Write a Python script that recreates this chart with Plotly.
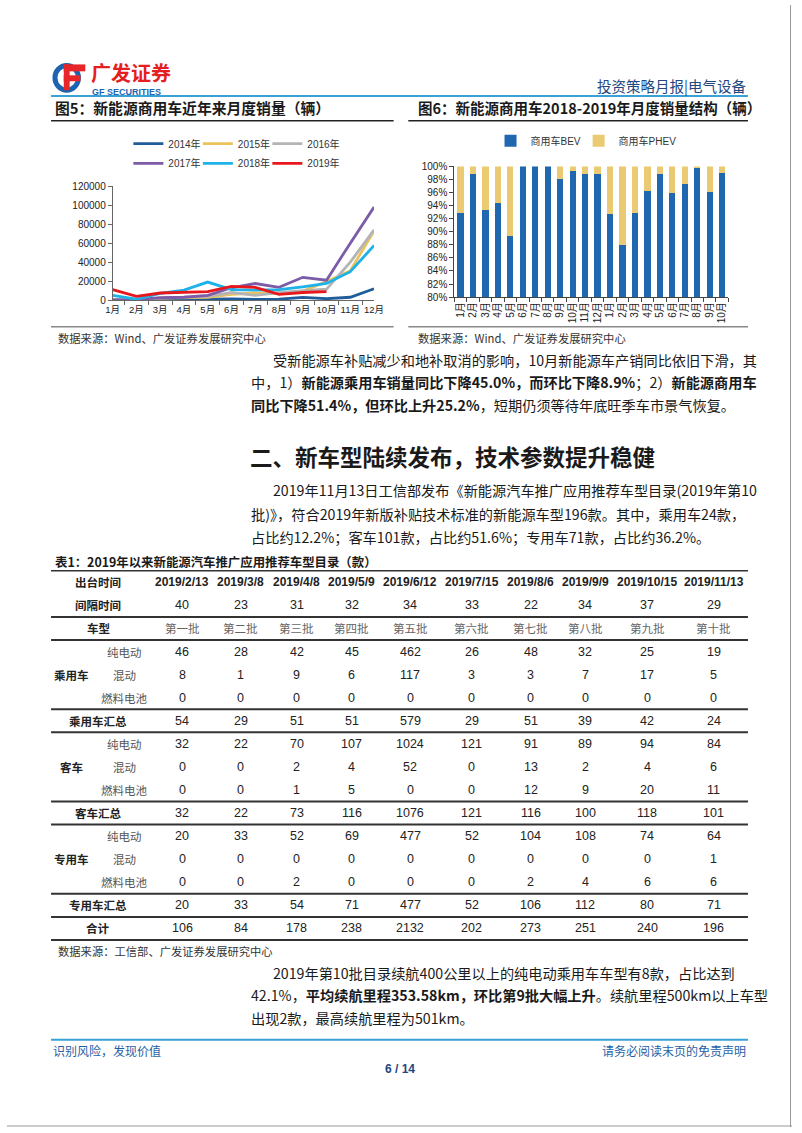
import plotly.graph_objects as go

W, H = 802, 1133
FONT = "Liberation Sans, Noto Sans CJK SC, sans-serif"
CJK = "Noto Sans CJK SC, Liberation Sans, sans-serif"

# ---------------- data: Figure 5 (line chart) ----------------
months = ["1月", "2月", "3月", "4月", "5月", "6月", "7月", "8月", "9月", "10月", "11月", "12月"]
sales_2014 = [500, 300, 600, 700, 1000, 1200, 800, 1000, 2800, 1500, 3000, 12000]
sales_2015 = [800, 600, 2000, 2500, 3000, 6000, 7500, 7000, 9500, 19500, 31000, 73000]
sales_2016 = [400, 500, 2000, 3000, 4000, 8000, 5000, 8000, 10000, 11500, 40000, 74000]
sales_2017 = [300, 600, 2500, 3000, 5000, 13000, 17500, 13500, 24000, 21000, 60000, 98000]
sales_2018 = [5000, 1000, 7000, 10500, 19000, 11000, 10500, 11000, 14000, 17500, 30000, 57500]
sales_2019 = [11000, 4000, 7500, 8000, 9000, 14500, 13500, 6000, 8000, 9000]
line_names = ["2014年", "2015年", "2016年", "2017年", "2018年", "2019年"]

# ---------------- data: Figure 6 (stacked share bars) ----------------
bar_years = ["2018"] * 12 + ["2019"] * 10
bar_months = ["1月", "2月", "3月", "4月", "5月", "6月", "7月", "8月", "9月", "10月", "11月", "12月",
              "1月", "2月", "3月", "4月", "5月", "6月", "7月", "8月", "9月", "10月"]
bev_share = [92.8, 98.9, 93.3, 94.4, 89.4, 100.0, 100.0, 100.0, 98.1, 99.3, 98.8, 98.9,
             92.7, 87.9, 92.9, 96.3, 98.9, 95.9, 97.3, 99.8, 96.1, 99.0]
phev_share = [7.2, 1.1, 6.7, 5.6, 10.6, 0.0, 0.0, 0.0, 1.9, 0.7, 1.2, 1.1,
              7.3, 12.1, 7.1, 3.7, 1.1, 4.1, 2.7, 0.2, 3.9, 1.0]
bar_names = ["商用车BEV", "商用车PHEV"]

# ---------------- data: Table 1 ----------------
release_dates = ["2019/2/13", "2019/3/8", "2019/4/8", "2019/5/9", "2019/6/12",
                 "2019/7/15", "2019/8/6", "2019/9/9", "2019/10/15", "2019/11/13"]
interval_days = [40, 23, 31, 32, 34, 33, 22, 34, 37, 29]
batches = ["第一批", "第二批", "第三批", "第四批", "第五批", "第六批", "第七批", "第八批", "第九批", "第十批"]
passenger_bev = [46, 28, 42, 45, 462, 26, 48, 32, 25, 19]
passenger_hev = [8, 1, 9, 6, 117, 3, 3, 7, 17, 5]
passenger_fcev = [0, 0, 0, 0, 0, 0, 0, 0, 0, 0]
passenger_total = [54, 29, 51, 51, 579, 29, 51, 39, 42, 24]
bus_bev = [32, 22, 70, 107, 1024, 121, 91, 89, 94, 84]
bus_hev = [0, 0, 2, 4, 52, 0, 13, 2, 4, 6]
bus_fcev = [0, 0, 1, 5, 0, 0, 12, 9, 20, 11]
bus_total = [32, 22, 73, 116, 1076, 121, 116, 100, 118, 101]
special_bev = [20, 33, 52, 69, 477, 52, 104, 108, 74, 64]
special_hev = [0, 0, 0, 0, 0, 0, 0, 0, 0, 1]
special_fcev = [0, 0, 2, 0, 0, 0, 2, 4, 6, 6]
special_total = [20, 33, 54, 71, 477, 52, 106, 112, 80, 71]
grand_total = [106, 84, 178, 238, 2132, 202, 273, 251, 240, 196]
subtypes = ["纯电动", "混动", "燃料电池"]
groups = ["乘用车", "客车", "专用车"]


def X(px):
    return px / W


def Y(py):
    return 1 - py / H


fig = go.Figure()

# ---------------- line chart ----------------
line_data = [sales_2014, sales_2015, sales_2016, sales_2017, sales_2018, sales_2019]
line_colors = ["#1F5C99", "#EBC35A", "#B4B4B4", "#7C5BA8", "#1DB2E8", "#E8171C"]
legend_ids = ["legend", "legend2", "legend3", "legend4", "legend5", "legend6"]
for name, vals, col, lg in zip(line_names, line_data, line_colors, legend_ids):
    fig.add_trace(go.Scatter(
        x=months[:len(vals)], y=vals, name=name, mode="lines",
        line=dict(color=col, width=2.8), xaxis="x", yaxis="y",
        legend=lg, hoverinfo="skip"))

# ---------------- bar chart ----------------
bar_cats = [y + "-" + m for y, m in zip(bar_years, bar_months)]
for name, vals, col, lg in zip(bar_names, [bev_share, phev_share], ["#1F67AE", "#EACB73"],
                               ["legend7", "legend8"]):
    fig.add_trace(go.Bar(
        x=bar_cats, y=vals, name=name, marker=dict(color=col, line=dict(width=0)),
        xaxis="x2", yaxis="y2", legend=lg, hoverinfo="skip"))

axis_font = dict(family=FONT, size=10, color="#222")


def legend_at(px, py):
    return dict(x=X(px), y=Y(py), orientation="h", bgcolor="rgba(0,0,0,0)", borderwidth=0,
                font=dict(family=FONT, size=10, color="#333"), traceorder="normal",
                itemwidth=30, yanchor="middle", xanchor="left")


legend_layout = {}
for k, lg in enumerate(legend_ids):
    legend_layout[lg] = legend_at(124 + (k % 3) * 71, 140 if k < 3 else 160)
legend_layout["legend7"] = legend_at(494, 137)
legend_layout["legend8"] = legend_at(584, 137)

fig.update_layout(
    width=W, height=H, autosize=False,
    margin=dict(l=0, r=0, t=0, b=0),
    paper_bgcolor="white", plot_bgcolor="white",
    barmode="stack", bargap=0.5,
    showlegend=True,
    xaxis=dict(domain=[X(108), X(375)], anchor="y", type="category",
               categoryorder="array", categoryarray=months, tickangle=0,
               tickson="boundaries", ticks="outside", ticklen=4, tickcolor="#666",
               showline=True, linecolor="#666", linewidth=1, showgrid=False,
               tickfont=dict(family=FONT, size=9.5, color="#222"), fixedrange=True),
    yaxis=dict(domain=[Y(298), Y(183)], anchor="x", range=[0, 120000], dtick=20000,
               tickformat="d", showline=True, linecolor="#666", linewidth=1,
               ticks="outside", ticklen=4, tickcolor="#666", showgrid=False,
               zeroline=False, tickfont=axis_font, fixedrange=True),
    xaxis2=dict(domain=[X(457), X(737)], anchor="y2", type="category",
                categoryorder="array", categoryarray=bar_cats,
                tickmode="array", tickvals=bar_cats, ticktext=bar_months,
                tickangle=-90, tickson="boundaries", ticks="outside", ticklen=4,
                tickcolor="#444", showline=True, linecolor="#444", linewidth=1,
                showgrid=False, tickfont=axis_font, fixedrange=True),
    yaxis2=dict(domain=[Y(295), Y(163)], anchor="x2", range=[80, 100], dtick=2,
                ticksuffix="%", showline=True, linecolor="#444", linewidth=1,
                ticks="outside", ticklen=4, tickcolor="#444", showgrid=False,
                zeroline=False, tickfont=axis_font, fixedrange=True),
    **legend_layout,
)

shapes = []
annots = []


def hline(x0, x1, y, color, width):
    shapes.append(dict(type="line", xref="paper", yref="paper",
                       x0=X(x0), x1=X(x1), y0=Y(y), y1=Y(y),
                       line=dict(color=color, width=width)))


def text(x, y, s, size=14, color="#1a1a1a", anchor="left", family=CJK):
    annots.append(dict(x=X(x), y=Y(y), xref="paper", yref="paper", text=s,
                       showarrow=False, xanchor=anchor, yanchor="middle",
                       font=dict(family=family, size=size, color=color)))


# ---------------- page header ----------------
shapes.append(dict(type="circle", xref="paper", yref="paper",
                   x0=X(49), x1=X(73), y0=Y(86), y1=Y(61),
                   line=dict(color="#1E63B0", width=5)))
shapes.append(dict(type="rect", xref="paper", yref="paper",
                   x0=X(58), x1=X(80), y0=Y(67), y1=Y(60),
                   fillcolor="#E8262A", line=dict(width=0)))
shapes.append(dict(type="rect", xref="paper", yref="paper",
                   x0=X(58), x1=X(75), y0=Y(77), y1=Y(71),
                   fillcolor="#E8262A", line=dict(width=0)))
shapes.append(dict(type="rect", xref="paper", yref="paper",
                   x0=X(58), x1=X(64), y0=Y(86), y1=Y(60),
                   fillcolor="#E8262A", line=dict(width=0)))
text(84, 68, "<b>广发证券</b>", size=20, color="#E3201F")
text(85, 88, "<b>GF SECURITIES</b>", size=9, color="#1E63B0", family=FONT)
text(757, 81, "投资策略月报|电气设备", size=14.5, color="#23467F", anchor="right")
hline(45, 757, 92, "#38A1D6", 2)

# ---------------- figure titles ----------------
text(47, 103, "<b>图5：新能源商用车近年来月度销量（辆）</b>", size=14.8)
text(418, 103, "<b>图6：新能源商用车2018-2019年月度销量结构（辆）</b>", size=14.5)
hline(45, 395, 117, "#222", 1.5)
hline(410, 757, 117, "#222", 1.5)
hline(45, 395, 325, "#888", 1.5)
hline(410, 757, 325, "#888", 1.5)
text(50, 336, "数据来源：Wind、广发证券发展研究中心", size=11.3, color="#333")
text(418, 336, "数据来源：Wind、广发证券发展研究中心", size=11.3, color="#333")

# ---------------- body text ----------------
BODY = 14.2
text(270, 358, "受新能源车补贴减少和地补取消的影响，10月新能源车产销同比依旧下滑，其", size=BODY)
text(247, 381, "中，1）<b>新能源乘用车销量同比下降45.0%，而环比下降8.9%</b>；2）<b>新能源商用车</b>", size=BODY)
text(247, 404, "<b>同比下降51.4%，但环比上升25.2%</b>，短期仍须等待年底旺季车市景气恢复。", size=BODY)
text(246, 455, "<b>二、新车型陆续发布，技术参数提升稳健</b>", size=22.5)
text(270, 490, "2019年11月13日工信部发布《新能源汽车推广应用推荐车型目录(2019年第10", size=BODY)
text(247, 514, "批)》，符合2019年新版补贴技术标准的新能源车型196款。其中，乘用车24款，", size=BODY)
text(247, 537, "占比约12.2%；客车101款，占比约51.6%；专用车71款，占比约36.2%。", size=BODY)
text(47, 562, "<b>表1：2019年以来新能源汽车推广应用推荐车型目录（款）</b>", size=12.4)

# ---------------- table ----------------
col_w = [60, 57, 56, 60, 63, 60, 56, 63, 68]
col_x = [179]
for w in col_w:
    col_x.append(col_x[-1] + w)
row_y0, row_h = 583, 23.3
row_y = [row_y0 + i * row_h for i in range(16)]

rows = [
    ("head", "出台时间", release_dates),
    ("plain", "间隔时间", interval_days),
    ("batch", "车型", batches),
    ("sub", subtypes[0], passenger_bev),
    ("sub", subtypes[1], passenger_hev),
    ("sub", subtypes[2], passenger_fcev),
    ("sum", groups[0] + "汇总", passenger_total),
    ("sub", subtypes[0], bus_bev),
    ("sub", subtypes[1], bus_hev),
    ("sub", subtypes[2], bus_fcev),
    ("sum", groups[1] + "汇总", bus_total),
    ("sub", subtypes[0], special_bev),
    ("sub", subtypes[1], special_hev),
    ("sub", subtypes[2], special_fcev),
    ("sum", groups[2] + "汇总", special_total),
    ("sum", "合计", grand_total),
]
for i, (kind, label, vals) in enumerate(rows):
    y = row_y[i]
    if kind == "sub":
        text(120, y, label, size=11.5, color="#555", anchor="center")
    else:
        text(93, y, "<b>" + label + "</b>", size=11.5, color="#222", anchor="center")
    for cx, v in zip(col_x, vals):
        if kind == "head":
            text(cx, y, "<b>" + str(v) + "</b>", size=12, color="#222", anchor="center", family=FONT)
        elif kind == "batch":
            text(cx, y, str(v), size=11.5, color="#666", anchor="center")
        else:
            text(cx, y, str(v), size=12.5, color="#222", anchor="center", family=FONT)
for g, mid in zip(groups, [4, 8, 12]):
    text(66, row_y[mid], "<b>" + g + "</b>", size=11.5, color="#222", anchor="center")

hline(45, 757, row_y[0] - row_h / 2, "#333", 1.5)
for r in [1, 2, 5, 6, 9, 10, 13, 14, 15]:
    hline(45, 757, row_y[r] + row_h / 2, "#333", 2)
text(50, 955, "数据来源：工信部、广发证券发展研究中心", size=11.3, color="#333")

text(270, 977, "2019年第10批目录续航400公里以上的纯电动乘用车车型有8款，占比达到", size=BODY)
text(247, 1000, "42.1%，<b>平均续航里程353.58km，环比第9批大幅上升</b>。续航里程500km以上车型", size=BODY)
text(247, 1023, "出现2款，最高续航里程为501km。", size=BODY)

# ---------------- footer ----------------
hline(45, 757, 1045, "#38A1D6", 2)
text(45, 1056, "识别风险，发现价值", size=12, color="#1F5FA5")
text(757, 1056, "请务必阅读末页的免责声明", size=12, color="#1F5FA5", anchor="right")
text(401, 1074, "<b>6 / 14</b>", size=12, color="#23467F", anchor="center", family=FONT)

shapes.append(dict(type="line", xref="paper", yref="paper", x0=X(800.5), x1=X(800.5),
                   y0=0, y1=1, line=dict(color="#999", width=1)))
shapes.append(dict(type="line", xref="paper", yref="paper", x0=0, x1=1,
                   y0=Y(1132), y1=Y(1132), line=dict(color="#999", width=1)))

fig.update_layout(shapes=shapes, annotations=annots)

fig.write_html("out.html", config={"displayModeBar": False, "staticPlot": True},
               post_script="document.body.style.margin='0';document.body.style.overflow='hidden';")
